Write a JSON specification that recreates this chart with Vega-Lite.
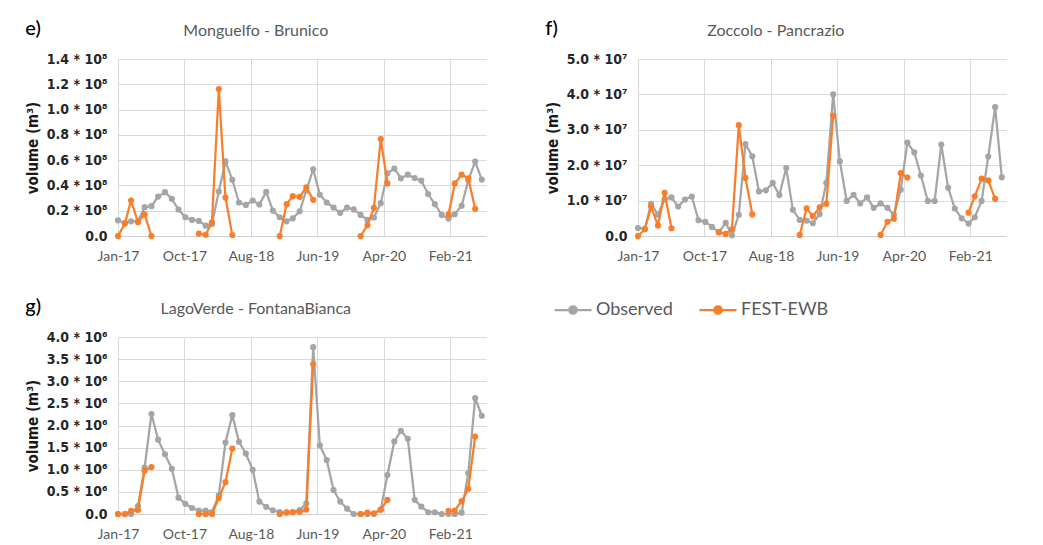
{
  "$schema": "https://vega.github.io/schema/vega-lite/v6.json",
  "background": "white",
  "padding": {"left": 25, "top": 19, "right": 4, "bottom": 2},
  "datasets": {
    "monguelfo": [
      {"month": "2017-01-01", "Observed": 12400000, "FEST-EWB": 0},
      {"month": "2017-02-01", "Observed": 10300000, "FEST-EWB": 9800000},
      {"month": "2017-03-01", "Observed": 11600000, "FEST-EWB": 28100000},
      {"month": "2017-04-01", "Observed": 11600000, "FEST-EWB": 10900000},
      {"month": "2017-05-01", "Observed": 22800000, "FEST-EWB": 17200000},
      {"month": "2017-06-01", "Observed": 23600000, "FEST-EWB": 0},
      {"month": "2017-07-01", "Observed": 31200000, "FEST-EWB": null},
      {"month": "2017-08-01", "Observed": 34700000, "FEST-EWB": null},
      {"month": "2017-09-01", "Observed": 29400000, "FEST-EWB": null},
      {"month": "2017-10-01", "Observed": 20900000, "FEST-EWB": null},
      {"month": "2017-11-01", "Observed": 14800000, "FEST-EWB": null},
      {"month": "2017-12-01", "Observed": 12700000, "FEST-EWB": null},
      {"month": "2018-01-01", "Observed": 11900000, "FEST-EWB": 1900000},
      {"month": "2018-02-01", "Observed": 8200000, "FEST-EWB": 1000000},
      {"month": "2018-03-01", "Observed": 9500000, "FEST-EWB": 10900000},
      {"month": "2018-04-01", "Observed": 35200000, "FEST-EWB": 116200000},
      {"month": "2018-05-01", "Observed": 59000000, "FEST-EWB": 30400000},
      {"month": "2018-06-01", "Observed": 44500000, "FEST-EWB": 800000},
      {"month": "2018-07-01", "Observed": 26500000, "FEST-EWB": null},
      {"month": "2018-08-01", "Observed": 24600000, "FEST-EWB": null},
      {"month": "2018-09-01", "Observed": 28100000, "FEST-EWB": null},
      {"month": "2018-10-01", "Observed": 24900000, "FEST-EWB": null},
      {"month": "2018-11-01", "Observed": 34900000, "FEST-EWB": null},
      {"month": "2018-12-01", "Observed": 20100000, "FEST-EWB": null},
      {"month": "2019-01-01", "Observed": 14800000, "FEST-EWB": 0},
      {"month": "2019-02-01", "Observed": 11600000, "FEST-EWB": 25200000},
      {"month": "2019-03-01", "Observed": 14000000, "FEST-EWB": 31500000},
      {"month": "2019-04-01", "Observed": 19500000, "FEST-EWB": 31000000},
      {"month": "2019-05-01", "Observed": 36000000, "FEST-EWB": 38500000},
      {"month": "2019-06-01", "Observed": 52800000, "FEST-EWB": 28600000},
      {"month": "2019-07-01", "Observed": 32600000, "FEST-EWB": null},
      {"month": "2019-08-01", "Observed": 26500000, "FEST-EWB": null},
      {"month": "2019-09-01", "Observed": 22500000, "FEST-EWB": null},
      {"month": "2019-10-01", "Observed": 18300000, "FEST-EWB": null},
      {"month": "2019-11-01", "Observed": 22500000, "FEST-EWB": null},
      {"month": "2019-12-01", "Observed": 21000000, "FEST-EWB": null},
      {"month": "2020-01-01", "Observed": 16700000, "FEST-EWB": 0},
      {"month": "2020-02-01", "Observed": 12700000, "FEST-EWB": 8500000},
      {"month": "2020-03-01", "Observed": 14600000, "FEST-EWB": 22300000},
      {"month": "2020-04-01", "Observed": 26000000, "FEST-EWB": 76700000},
      {"month": "2020-05-01", "Observed": 49600000, "FEST-EWB": 41600000},
      {"month": "2020-06-01", "Observed": 53300000, "FEST-EWB": null},
      {"month": "2020-07-01", "Observed": 45600000, "FEST-EWB": null},
      {"month": "2020-08-01", "Observed": 48500000, "FEST-EWB": null},
      {"month": "2020-09-01", "Observed": 45900000, "FEST-EWB": null},
      {"month": "2020-10-01", "Observed": 43800000, "FEST-EWB": null},
      {"month": "2020-11-01", "Observed": 33200000, "FEST-EWB": null},
      {"month": "2020-12-01", "Observed": 25200000, "FEST-EWB": null},
      {"month": "2021-01-01", "Observed": 16700000, "FEST-EWB": null},
      {"month": "2021-02-01", "Observed": 13800000, "FEST-EWB": 17200000},
      {"month": "2021-03-01", "Observed": 17200000, "FEST-EWB": 41600000},
      {"month": "2021-04-01", "Observed": 23900000, "FEST-EWB": 48500000},
      {"month": "2021-05-01", "Observed": 44000000, "FEST-EWB": 45600000},
      {"month": "2021-06-01", "Observed": 58900000, "FEST-EWB": 21500000},
      {"month": "2021-07-01", "Observed": 44600000, "FEST-EWB": null}
    ],
    "zoccolo": [
      {"month": "2017-01-01", "Observed": 2270000, "FEST-EWB": 0},
      {"month": "2017-02-01", "Observed": 2000000, "FEST-EWB": 1900000},
      {"month": "2017-03-01", "Observed": 9090000, "FEST-EWB": 8300000},
      {"month": "2017-04-01", "Observed": 6060000, "FEST-EWB": 3000000},
      {"month": "2017-05-01", "Observed": 10300000, "FEST-EWB": 12200000},
      {"month": "2017-06-01", "Observed": 10900000, "FEST-EWB": 2200000},
      {"month": "2017-07-01", "Observed": 8330000, "FEST-EWB": null},
      {"month": "2017-08-01", "Observed": 10300000, "FEST-EWB": null},
      {"month": "2017-09-01", "Observed": 11170000, "FEST-EWB": null},
      {"month": "2017-10-01", "Observed": 4450000, "FEST-EWB": null},
      {"month": "2017-11-01", "Observed": 3980000, "FEST-EWB": null},
      {"month": "2017-12-01", "Observed": 2560000, "FEST-EWB": null},
      {"month": "2018-01-01", "Observed": 1000000, "FEST-EWB": 1100000},
      {"month": "2018-02-01", "Observed": 3700000, "FEST-EWB": 600000},
      {"month": "2018-03-01", "Observed": 200000, "FEST-EWB": 1900000},
      {"month": "2018-04-01", "Observed": 6000000, "FEST-EWB": 31300000},
      {"month": "2018-05-01", "Observed": 26000000, "FEST-EWB": 16400000},
      {"month": "2018-06-01", "Observed": 22500000, "FEST-EWB": 6100000},
      {"month": "2018-07-01", "Observed": 12600000, "FEST-EWB": null},
      {"month": "2018-08-01", "Observed": 12900000, "FEST-EWB": null},
      {"month": "2018-09-01", "Observed": 15000000, "FEST-EWB": null},
      {"month": "2018-10-01", "Observed": 11550000, "FEST-EWB": null},
      {"month": "2018-11-01", "Observed": 19200000, "FEST-EWB": null},
      {"month": "2018-12-01", "Observed": 7400000, "FEST-EWB": null},
      {"month": "2019-01-01", "Observed": 4550000, "FEST-EWB": 300000},
      {"month": "2019-02-01", "Observed": 4350000, "FEST-EWB": 7800000},
      {"month": "2019-03-01", "Observed": 3600000, "FEST-EWB": 5600000},
      {"month": "2019-04-01", "Observed": 6200000, "FEST-EWB": 8100000},
      {"month": "2019-05-01", "Observed": 15000000, "FEST-EWB": 9100000},
      {"month": "2019-06-01", "Observed": 40000000, "FEST-EWB": 34000000},
      {"month": "2019-07-01", "Observed": 21100000, "FEST-EWB": null},
      {"month": "2019-08-01", "Observed": 9900000, "FEST-EWB": null},
      {"month": "2019-09-01", "Observed": 11650000, "FEST-EWB": null},
      {"month": "2019-10-01", "Observed": 9200000, "FEST-EWB": null},
      {"month": "2019-11-01", "Observed": 10900000, "FEST-EWB": null},
      {"month": "2019-12-01", "Observed": 7950000, "FEST-EWB": null},
      {"month": "2020-01-01", "Observed": 9200000, "FEST-EWB": 300000},
      {"month": "2020-02-01", "Observed": 7950000, "FEST-EWB": 4000000},
      {"month": "2020-03-01", "Observed": 6060000, "FEST-EWB": 4900000},
      {"month": "2020-04-01", "Observed": 13070000, "FEST-EWB": 17800000},
      {"month": "2020-05-01", "Observed": 26400000, "FEST-EWB": 16500000},
      {"month": "2020-06-01", "Observed": 23600000, "FEST-EWB": null},
      {"month": "2020-07-01", "Observed": 17100000, "FEST-EWB": null},
      {"month": "2020-08-01", "Observed": 9900000, "FEST-EWB": null},
      {"month": "2020-09-01", "Observed": 9900000, "FEST-EWB": null},
      {"month": "2020-10-01", "Observed": 25850000, "FEST-EWB": null},
      {"month": "2020-11-01", "Observed": 13600000, "FEST-EWB": null},
      {"month": "2020-12-01", "Observed": 7770000, "FEST-EWB": null},
      {"month": "2021-01-01", "Observed": 5000000, "FEST-EWB": null},
      {"month": "2021-02-01", "Observed": 3500000, "FEST-EWB": 6600000},
      {"month": "2021-03-01", "Observed": 5300000, "FEST-EWB": 11200000},
      {"month": "2021-04-01", "Observed": 9900000, "FEST-EWB": 16200000},
      {"month": "2021-05-01", "Observed": 22440000, "FEST-EWB": 15700000},
      {"month": "2021-06-01", "Observed": 36400000, "FEST-EWB": 10500000},
      {"month": "2021-07-01", "Observed": 16570000, "FEST-EWB": null}
    ],
    "lagoverde": [
      {"month": "2017-01-01", "Observed": 0, "FEST-EWB": 0},
      {"month": "2017-02-01", "Observed": 0, "FEST-EWB": 0},
      {"month": "2017-03-01", "Observed": 0, "FEST-EWB": 70000},
      {"month": "2017-04-01", "Observed": 180000, "FEST-EWB": 90000},
      {"month": "2017-05-01", "Observed": 1050000, "FEST-EWB": 980000},
      {"month": "2017-06-01", "Observed": 2260000, "FEST-EWB": 1060000},
      {"month": "2017-07-01", "Observed": 1680000, "FEST-EWB": null},
      {"month": "2017-08-01", "Observed": 1350000, "FEST-EWB": null},
      {"month": "2017-09-01", "Observed": 1020000, "FEST-EWB": null},
      {"month": "2017-10-01", "Observed": 370000, "FEST-EWB": null},
      {"month": "2017-11-01", "Observed": 230000, "FEST-EWB": null},
      {"month": "2017-12-01", "Observed": 136000, "FEST-EWB": null},
      {"month": "2018-01-01", "Observed": 75000, "FEST-EWB": 0},
      {"month": "2018-02-01", "Observed": 75000, "FEST-EWB": 0},
      {"month": "2018-03-01", "Observed": 45000, "FEST-EWB": 0},
      {"month": "2018-04-01", "Observed": 420000, "FEST-EWB": 360000},
      {"month": "2018-05-01", "Observed": 1615000, "FEST-EWB": 720000},
      {"month": "2018-06-01", "Observed": 2234000, "FEST-EWB": 1480000},
      {"month": "2018-07-01", "Observed": 1630000, "FEST-EWB": null},
      {"month": "2018-08-01", "Observed": 1366000, "FEST-EWB": null},
      {"month": "2018-09-01", "Observed": 1000000, "FEST-EWB": null},
      {"month": "2018-10-01", "Observed": 280000, "FEST-EWB": null},
      {"month": "2018-11-01", "Observed": 160000, "FEST-EWB": null},
      {"month": "2018-12-01", "Observed": 83000, "FEST-EWB": null},
      {"month": "2019-01-01", "Observed": 45000, "FEST-EWB": 0},
      {"month": "2019-02-01", "Observed": 30000, "FEST-EWB": 40000},
      {"month": "2019-03-01", "Observed": 45000, "FEST-EWB": 40000},
      {"month": "2019-04-01", "Observed": 90000, "FEST-EWB": 50000},
      {"month": "2019-05-01", "Observed": 240000, "FEST-EWB": 100000},
      {"month": "2019-06-01", "Observed": 3770000, "FEST-EWB": 3390000},
      {"month": "2019-07-01", "Observed": 1550000, "FEST-EWB": null},
      {"month": "2019-08-01", "Observed": 1220000, "FEST-EWB": null},
      {"month": "2019-09-01", "Observed": 540000, "FEST-EWB": null},
      {"month": "2019-10-01", "Observed": 280000, "FEST-EWB": null},
      {"month": "2019-11-01", "Observed": 120000, "FEST-EWB": null},
      {"month": "2019-12-01", "Observed": 0, "FEST-EWB": null},
      {"month": "2020-01-01", "Observed": 0, "FEST-EWB": 0},
      {"month": "2020-02-01", "Observed": 0, "FEST-EWB": 30000},
      {"month": "2020-03-01", "Observed": 0, "FEST-EWB": 15000},
      {"month": "2020-04-01", "Observed": 100000, "FEST-EWB": 100000},
      {"month": "2020-05-01", "Observed": 880000, "FEST-EWB": 320000},
      {"month": "2020-06-01", "Observed": 1640000, "FEST-EWB": null},
      {"month": "2020-07-01", "Observed": 1880000, "FEST-EWB": null},
      {"month": "2020-08-01", "Observed": 1700000, "FEST-EWB": null},
      {"month": "2020-09-01", "Observed": 320000, "FEST-EWB": null},
      {"month": "2020-10-01", "Observed": 166000, "FEST-EWB": null},
      {"month": "2020-11-01", "Observed": 40000, "FEST-EWB": null},
      {"month": "2020-12-01", "Observed": 40000, "FEST-EWB": null},
      {"month": "2021-01-01", "Observed": 0, "FEST-EWB": null},
      {"month": "2021-02-01", "Observed": 0, "FEST-EWB": 70000},
      {"month": "2021-03-01", "Observed": 0, "FEST-EWB": 80000},
      {"month": "2021-04-01", "Observed": 30000, "FEST-EWB": 290000},
      {"month": "2021-05-01", "Observed": 920000, "FEST-EWB": 570000},
      {"month": "2021-06-01", "Observed": 2620000, "FEST-EWB": 1750000},
      {"month": "2021-07-01", "Observed": 2220000, "FEST-EWB": null}
    ]
  },
  "vconcat": [
    {
      "hconcat": [
        {
          "title": {"text": "e)", "anchor": "start", "offset": -16, "fontSize": 20, "fontWeight": 500, "color": "#000000"},
          "vconcat": [
            {
              "width": 368,
              "height": 177,
              "title": {"text": "Monguelfo - Brunico", "frame": "bounds", "anchor": "middle", "offset": 13},
              "data": {"name": "monguelfo"},
              "transform": [{"fold": ["Observed", "FEST-EWB"], "as": ["series", "volume"]}],
              "encoding": {
                "x": {
                  "field": "month", "type": "temporal", "title": null,
                  "scale": {"type": "utc", "domain": [{"year": 2017, "month": 1, "date": 1, "utc": true}, {"year": 2021, "month": 7, "date": 20, "utc": true}]},
                  "axis": {"labelExpr": "utcFormat(datum.value, '%b-%y')", "values": [
                    {"year": 2017, "month": 1, "date": 1, "utc": true},
                    {"year": 2017, "month": 10, "date": 28, "utc": true},
                    {"year": 2018, "month": 8, "date": 24, "utc": true},
                    {"year": 2019, "month": 6, "date": 20, "utc": true},
                    {"year": 2020, "month": 4, "date": 15, "utc": true},
                    {"year": 2021, "month": 2, "date": 9, "utc": true}
                  ]}
                },
                "y": {
                  "field": "volume", "type": "quantitative", "title": "volume (m³)",
                  "scale": {"domain": [0, 140000000]},
                  "axis": {"values": [0, 20000000, 40000000, 60000000, 80000000, 100000000, 120000000, 140000000],
                    "labelExpr": "datum.value == 0 ? '0.0' : format(datum.value / 1e8, '.1f') + ' * 10⁸'"}
                },
                "color": {"field": "series", "type": "nominal", "scale": {"domain": ["Observed", "FEST-EWB"], "range": ["#a5a5a5", "#f97e2b"]}, "legend": {"title": null}}
              },
              "layer": [
                {"transform": [{"filter": {"field": "series", "equal": "Observed"}}], "mark": {"type": "line", "strokeWidth": 2.25, "invalid": "break-paths-filter-domains"}},
                {"transform": [{"filter": {"field": "series", "equal": "Observed"}}], "mark": {"type": "circle", "size": 38, "opacity": 1, "invalid": "break-paths-filter-domains"}},
                {"transform": [{"filter": {"field": "series", "equal": "FEST-EWB"}}], "mark": {"type": "line", "strokeWidth": 2.25, "invalid": "break-paths-filter-domains"}},
                {"transform": [{"filter": {"field": "series", "equal": "FEST-EWB"}}], "mark": {"type": "circle", "size": 38, "opacity": 1, "invalid": "break-paths-filter-domains"}}
              ]
            }
          ]
        },
        {
          "title": {"text": "f)", "anchor": "start", "offset": -16, "fontSize": 20, "fontWeight": 500, "color": "#000000"},
          "vconcat": [
            {
              "width": 368,
              "height": 177,
              "title": {"text": "Zoccolo - Pancrazio", "frame": "bounds", "anchor": "middle", "offset": 13},
              "data": {"name": "zoccolo"},
              "transform": [{"fold": ["Observed", "FEST-EWB"], "as": ["series", "volume"]}],
              "encoding": {
                "x": {
                  "field": "month", "type": "temporal", "title": null,
                  "scale": {"type": "utc", "domain": [{"year": 2017, "month": 1, "date": 1, "utc": true}, {"year": 2021, "month": 7, "date": 20, "utc": true}]},
                  "axis": {"labelExpr": "utcFormat(datum.value, '%b-%y')", "values": [
                    {"year": 2017, "month": 1, "date": 1, "utc": true},
                    {"year": 2017, "month": 10, "date": 28, "utc": true},
                    {"year": 2018, "month": 8, "date": 24, "utc": true},
                    {"year": 2019, "month": 6, "date": 20, "utc": true},
                    {"year": 2020, "month": 4, "date": 15, "utc": true},
                    {"year": 2021, "month": 2, "date": 9, "utc": true}
                  ]}
                },
                "y": {
                  "field": "volume", "type": "quantitative", "title": "volume (m³)",
                  "scale": {"domain": [0, 50000000]},
                  "axis": {"values": [0, 10000000, 20000000, 30000000, 40000000, 50000000],
                    "labelExpr": "datum.value == 0 ? '0.0' : format(datum.value / 1e7, '.1f') + ' * 10⁷'"}
                },
                "color": {"field": "series", "type": "nominal", "scale": {"domain": ["Observed", "FEST-EWB"], "range": ["#a5a5a5", "#f97e2b"]}, "legend": {"title": null}}
              },
              "layer": [
                {"transform": [{"filter": {"field": "series", "equal": "Observed"}}], "mark": {"type": "line", "strokeWidth": 2.25, "invalid": "break-paths-filter-domains"}},
                {"transform": [{"filter": {"field": "series", "equal": "Observed"}}], "mark": {"type": "circle", "size": 38, "opacity": 1, "invalid": "break-paths-filter-domains"}},
                {"transform": [{"filter": {"field": "series", "equal": "FEST-EWB"}}], "mark": {"type": "line", "strokeWidth": 2.25, "invalid": "break-paths-filter-domains"}},
                {"transform": [{"filter": {"field": "series", "equal": "FEST-EWB"}}], "mark": {"type": "circle", "size": 38, "opacity": 1, "invalid": "break-paths-filter-domains"}}
              ]
            }
          ]
        }
      ],
      "spacing": 58
    },
    {
      "title": {"text": "g)", "anchor": "start", "offset": -16, "fontSize": 20, "fontWeight": 500, "color": "#000000"},
      "vconcat": [
        {
          "width": 368,
          "height": 177,
          "title": {"text": "LagoVerde - FontanaBianca", "frame": "bounds", "anchor": "middle", "offset": 13},
          "data": {"name": "lagoverde"},
          "transform": [{"fold": ["Observed", "FEST-EWB"], "as": ["series", "volume"]}],
          "encoding": {
            "x": {
              "field": "month", "type": "temporal", "title": null,
              "scale": {"type": "utc", "domain": [{"year": 2017, "month": 1, "date": 1, "utc": true}, {"year": 2021, "month": 7, "date": 20, "utc": true}]},
              "axis": {"labelExpr": "utcFormat(datum.value, '%b-%y')", "values": [
                {"year": 2017, "month": 1, "date": 1, "utc": true},
                {"year": 2017, "month": 10, "date": 28, "utc": true},
                {"year": 2018, "month": 8, "date": 24, "utc": true},
                {"year": 2019, "month": 6, "date": 20, "utc": true},
                {"year": 2020, "month": 4, "date": 15, "utc": true},
                {"year": 2021, "month": 2, "date": 9, "utc": true}
              ]}
            },
            "y": {
              "field": "volume", "type": "quantitative", "title": "volume (m³)",
              "scale": {"domain": [0, 4000000]},
              "axis": {"values": [0, 500000, 1000000, 1500000, 2000000, 2500000, 3000000, 3500000, 4000000],
                "labelExpr": "datum.value == 0 ? '0.0' : format(datum.value / 1e6, '.1f') + ' * 10⁶'"}
            },
            "color": {"field": "series", "type": "nominal", "scale": {"domain": ["Observed", "FEST-EWB"], "range": ["#a5a5a5", "#f97e2b"]}, "legend": {"title": null}}
          },
          "layer": [
            {"transform": [{"filter": {"field": "series", "equal": "Observed"}}], "mark": {"type": "line", "strokeWidth": 2.25, "invalid": "break-paths-filter-domains"}},
            {"transform": [{"filter": {"field": "series", "equal": "Observed"}}], "mark": {"type": "circle", "size": 38, "opacity": 1, "invalid": "break-paths-filter-domains"}},
            {"transform": [{"filter": {"field": "series", "equal": "FEST-EWB"}}], "mark": {"type": "line", "strokeWidth": 2.25, "invalid": "break-paths-filter-domains"}},
            {"transform": [{"filter": {"field": "series", "equal": "FEST-EWB"}}], "mark": {"type": "circle", "size": 38, "opacity": 1, "invalid": "break-paths-filter-domains"}}
          ]
        }
      ]
    }
  ],
  "spacing": 34,
  "config": {
    "font": "Lato",
    "view": {"stroke": null},
    "title": {"font": "Lato", "fontSize": 16, "fontWeight": "normal", "color": "#595959"},
    "legend": {
      "orient": "none", "legendX": 435, "legendY": 231, "direction": "horizontal", "padding": 0,
      "symbolType": "M-1,0H1M0.2,0A0.2,0.2,0,1,1,-0.2,0A0.2,0.2,0,1,1,0.2,0Z",
      "symbolSize": 1369, "symbolStrokeWidth": 2.25, "symbolOpacity": 1,
      "labelFont": "Lato", "labelFontSize": 18, "labelColor": "#595959", "labelOffset": 3, "columnPadding": 22
    },
    "axisX": {
      "labelFont": "Lato", "labelFontSize": 14, "labelColor": "#595959", "labelPadding": 13,
      "labelFlush": false, "labelOverlap": false, "ticks": false,
      "domainColor": "#d0d0d0", "domainWidth": 1, "grid": true, "gridColor": "#d9d9d9", "gridWidth": 1
    },
    "axisY": {
      "labelFont": "Liberation Sans Narrow, DejaVu Sans Condensed, sans-serif", "labelFontSize": 14, "labelFontWeight": "bold",
      "labelColor": "#262626", "labelPadding": 11, "labelFlush": false, "labelOverlap": false,
      "ticks": false, "domain": false, "grid": true, "gridColor": "#d9d9d9", "gridWidth": 1,
      "titleFont": "Liberation Sans Narrow, DejaVu Sans Condensed, sans-serif", "titleFontSize": 15, "titleFontWeight": "bold",
      "titleColor": "#1a1a1a", "titlePadding": 6
    }
  }
}
